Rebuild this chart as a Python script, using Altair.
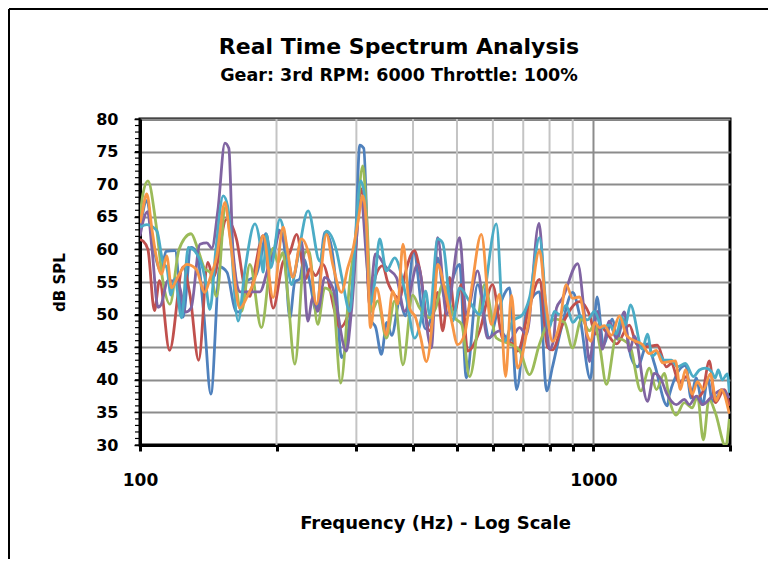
import altair as alt
import pandas as pd

chart_title = "Real Time Spectrum Analysis"
chart_subtitle = "Gear: 3rd RPM: 6000 Throttle: 100%"
x_title = "Frequency (Hz) - Log Scale"
y_title = "dB SPL"

blue_hz = [100, 103.6, 106.8, 109.0, 111.3, 114.1, 119.4, 124.4, 129.6, 133.5, 138.3, 143.3, 150.0, 155.5,
           162.7, 166.0, 171.2, 180.1, 185.7, 189.5, 195.3, 202.4, 207.6, 214.0, 219.5, 225.1, 229.7, 236.8,
           245, 255.5, 262.1, 270.2, 278.1, 290.1, 299, 305.2, 311.4, 322.2, 331, 340.7, 350, 359, 373.8,
           384.8, 401.3, 425.8, 439.7, 453.3, 469.6, 506.8, 524.3, 555.3, 590, 614.8, 653, 676.7, 711.8,
           760.3, 788, 812.2, 850, 900, 931.3, 984.8, 1018, 1052, 1101, 1129, 1164, 1210, 1250, 1315, 1362,
           1455, 1470, 1598, 1641, 1683, 1741, 1786, 1829, 1923, 1993]
blue_db = [63, 67.5, 61, 58, 56.5, 59.7, 59.8, 49.6, 60.3, 59.5, 50, 37.8, 57.3, 56.5,
           50.5, 50.4, 55, 56, 59.5, 62.4, 58.5, 63, 61, 49.5, 55, 55.5, 58.5, 55,
           50.5, 62.6, 61.5, 55, 43.4, 49.5, 62, 76, 75.5, 49.3, 48, 43.9, 48.8, 46.8, 52,
           49.8, 59.6, 47.8, 50, 58.7, 52.6, 57.7, 40.3, 54.6, 46.4, 50.5, 54.1, 38.5, 50.5,
           53.5, 38.3, 42, 48, 53.4, 50, 40.1, 52.7, 45.4, 49.3, 46.2, 49.3, 43.5, 42, 45.5, 42.5,
           36, 37.7, 42.2, 37.2, 40.3, 36.2, 40.3, 36.7, 38.2, 37.2]

red_hz = [100, 101.5, 104.1, 107.6, 110.4, 116.2, 124.4, 128.9, 134.7, 141.1, 145, 155.1, 163.3, 170.3,
          174.7, 179.2, 186.9, 196.6, 206.5, 214, 221.4, 232, 236.8, 244, 253, 268.8, 275.7, 290.1, 299,
          306.8, 313, 321, 331, 342.9, 351.7, 364.4, 373.8, 383.4, 402.7, 413.7, 435.2, 453.3, 464.9,
          481.7, 494.1, 511.2, 527.8, 560.9, 599, 630, 663, 680, 722.7, 760.3, 792, 812, 854, 931.3,
          979.8, 1010, 1031, 1062, 1124, 1200, 1244, 1295, 1383, 1448, 1485, 1547, 1602, 1669, 1738,
          1801, 1856, 1943, 1993]
red_db = [61.5, 61.3, 60, 50.6, 55.2, 44.5, 57.3, 53, 43, 58, 55.7, 64.6, 61.5, 54,
          52.8, 57, 62.1, 51, 58, 59.5, 62.3, 55.5, 57, 56, 57.7, 50.5, 48, 51, 60,
          69.3, 66, 51.5, 56, 57.5, 55, 53, 52.5, 56, 59.8, 57, 47.5, 53.4, 47.5,
          55.7, 50.5, 54.6, 44.4, 47.5, 54.6, 46.4, 45.5, 44.4, 51.3, 55.4, 45, 44.6, 48.5, 52,
          50, 47, 48.5, 47.5, 45.5, 48.4, 45.5, 45, 45.3, 42, 42.5, 39.5, 40.5, 37, 38,
          42.9, 36.5, 38.5, 36]

green_hz = [100, 101.5, 104.1, 108.4, 112.4, 116.4, 121.9, 129.6, 134.2, 139, 142.6, 147.6, 154.3, 159.4,
            167.4, 174.7, 185.2, 196.6, 201.3, 206.5, 211.8, 219.5, 230.9, 235.6, 246.6, 255.5, 266.1,
            277.1, 290.1, 299, 309.9, 316.2, 324.3, 334.3, 349.4, 364.4, 380.1, 399.2, 413.7, 435.2,
            448.7, 464.9, 494.1, 512, 533.1, 575.3, 610.6, 653, 687, 722.7, 760.3, 792, 827.6, 863.1,
            899, 940.8, 979.8, 1005, 1031, 1068, 1122, 1200, 1272, 1328, 1376, 1433, 1470, 1521, 1586,
            1652, 1695, 1747, 1798, 1856, 1957, 1993]
green_db = [65, 68.5, 70.5, 64, 55, 51.6, 60, 62.4, 60, 57, 56.5, 52.8, 66.5, 60,
            50.5, 57.7, 48, 60.2, 58, 59.5, 53, 42.4, 59.5, 59.8, 48.5, 54.1, 53,
            39.5, 55, 62, 72.8, 65, 50.5, 52.1, 46.4, 52.1, 42.3, 53, 51, 49.5,
            51, 54.6, 49.5, 48.5, 40.5, 54.6, 46.4, 45.5, 44.5, 40.8, 45.5, 48.5, 49.3, 48.8,
            44.9, 49.3, 47.5, 48.5, 45.4, 39.3, 46.4, 45.4, 38.3, 41.8, 38.5, 41, 37, 34.6, 36.5,
            35.7, 37.5, 30.8, 37, 35, 29.8, 34]

purple_hz = [100, 101.5, 103.9, 106.3, 109.6, 111.3, 115.2, 121.2, 126.3, 129.6, 135.6, 140.4, 144, 148.5,
             153.9, 157, 160.3, 166, 174.7, 183.8, 191.4, 198.3, 203.4, 210.4, 217.6, 227, 234.4, 240.4,
             246.6, 255.5, 266.1, 285.2, 292.6, 307, 316.2, 321, 330.5, 349.4, 367.6, 383.4, 409.5, 439,
             453.3, 474.4, 506.8, 524.3, 555.3, 584, 620.7, 653, 687, 711.8, 758.4, 784, 799.9, 816.3,
             828.6, 854.4, 923, 955.2, 979.8, 1005, 1020, 1046, 1084, 1122, 1170, 1200, 1231, 1315, 1362,
             1411, 1448, 1524, 1586, 1627, 1686, 1738, 1829, 1923, 1993]
purple_db = [62, 64.2, 65.8, 60, 51.1, 51.5, 55.2, 55, 50.4, 51, 60.8, 61, 60.2, 66,
             76.3, 75.5, 60, 53.5, 53.5, 53.5, 57, 60, 62.8, 59.8, 55.7, 61.3, 49, 52.6,
             50.5, 55.7, 54.1, 44.4, 50.5, 67.7, 58, 52.6, 59.3, 57.2, 55.7, 50.5, 57.7, 44.9,
             61.8, 50, 61.8, 50, 56.7, 46.4, 47.5, 46, 48, 47, 64, 50, 44.7, 46,
             51, 52.5, 57.8, 50, 42.8, 48.3, 50.5, 44.7, 49, 46.4, 50.4, 44.4, 46.7, 36.7, 41,
             40, 38, 36.2, 37, 36.2, 37.5, 36.2, 37.5, 38.5, 37.2]

aqua_hz = [100, 103.6, 106.8, 109, 112.4, 114.6, 117, 119.4, 123.5, 127.8, 133.5, 139, 142.6, 147,
           152.6, 156.2, 164.6, 170.3, 179.2, 183.8, 186.9, 190.1, 194.3, 203.4, 208.6, 215.8, 221.7,
           234.8, 249.1, 257.7, 271.1, 279.9, 290.1, 297.5, 306.5, 313, 322.2, 329.3, 337.7, 349.4,
           364.4, 386.6, 403.3, 417.3, 426.4, 435.2, 453.3, 464.9, 489.1, 506.8, 533.1, 560.9, 610.6,
           636.7, 663, 697.6, 722.7, 760.3, 797, 820.4, 841.5, 870.6, 900, 931.3, 969.9, 1005, 1046,
           1084, 1124, 1153, 1176, 1206, 1282, 1315, 1348, 1383, 1433, 1485, 1532, 1594, 1661, 1712,
           1765, 1819, 1856, 1884, 1923, 1973, 1993]
aqua_db = [63.4, 63.8, 63.4, 62.8, 58, 57.2, 53, 55.5, 49.5, 60.3, 59.3, 55.7, 50.8, 60,
           68.2, 66.5, 49, 56.7, 63.9, 61, 56.5, 62.3, 57.2, 64.6, 62, 54.6, 58,
           65.9, 58.2, 62.8, 59.8, 55, 50.5, 60, 70.5, 68, 51.6, 55, 61.6, 56.7,
           58.7, 52.6, 46.4, 49.5, 53.6, 50, 61.6, 61, 49, 54.1, 52, 50, 63.9,
           45.9, 49, 50, 52.6, 61.8, 47.8, 50.5, 50, 51.4, 48.8, 49.8, 49.2, 50.5, 48,
           48.4, 47, 49.7, 48.4, 51.5, 44.7, 47, 43.6, 44.2, 43, 43, 42, 42.5, 40.5, 41.5,
           41.8, 41.3, 40.3, 41.5, 40, 40.9, 38]

orange_hz = [100, 101, 103.5, 106.3, 107.9, 111.6, 114.5, 117.4, 121.2, 126.7, 132.9, 139, 142.6, 147.7,
             153.9, 157.8, 166, 172.9, 179.2, 186.9, 196.6, 206.9, 210.7, 217.3, 227, 236.8, 245, 257.7,
             266.1, 278.1, 287.2, 294.5, 302.1, 309.9, 316.2, 322.2, 332.2, 349.4, 360.8, 370, 380.1,
             393.2, 405.4, 415.8, 428, 446.4, 453.3, 469.6, 486.6, 501.7, 519.8, 538.5, 565.8, 595,
             620.7, 640, 659.5, 680, 715.4, 760.3, 784, 812.2, 841.5, 870.6, 899, 931.3, 969.9, 988,
             1005, 1031, 1057, 1095, 1141, 1182, 1231, 1282, 1328, 1376, 1419, 1470, 1516, 1555, 1594,
             1652, 1695, 1747, 1810, 1865, 1913, 1993]
orange_db = [64, 65.4, 68.5, 63, 60, 56.2, 59, 54.1, 55.8, 57.7, 57, 53.4, 55.5, 59,
             67.2, 62, 51, 53, 55.5, 62.1, 52.6, 63.4, 60.5, 55.7, 61.6, 58.5, 51.6, 62.3,
             57.7, 53.4, 57.2, 59.8, 64, 68.2, 63, 48, 54.1, 46.9, 53.6, 51.6, 60.8,
             51, 49.5, 46.5, 42.8, 52.6, 57.7, 54, 49, 45.4, 47, 54, 62.3, 48.5,
             53.1, 40.5, 53, 41.8, 48, 59.8, 52, 45.9, 48.5, 54.6, 52.5, 52.7, 46.8, 45.9,
             48.8, 48, 48.3, 46.8, 49.8, 46.8, 46, 45.4, 44, 44.5, 42.6, 42.8, 42.9, 38.5, 41.5,
             37.8, 39.7, 38.5, 40.9, 36.8, 38.5, 34.8]

series_colors = ["#4F81BD", "#C0504D", "#9BBB59", "#8064A2", "#4BACC6", "#F79646"]
series_data = [(blue_hz, blue_db), (red_hz, red_db), (green_hz, green_db),
               (purple_hz, purple_db), (aqua_hz, aqua_db), (orange_hz, orange_db)]

x_tick_values = [100, 200, 300, 400, 500, 600, 700, 800, 900, 1000, 2000]
x_minor_grid = [200, 300, 400, 500, 600, 700, 800, 900]
x_major_grid = [1000]
y_tick_values = [30, 35, 40, 45, 50, 55, 60, 65, 70, 75, 80]
y_minor_ticks = list(range(30, 81))

FONT = "DejaVu Sans"
x_scale = alt.Scale(type="log", domain=[100, 2000], nice=False)
y_scale = alt.Scale(domain=[30, 80], nice=False, zero=False)

x_axis = alt.Axis(values=x_tick_values, format="d",
                  labelExpr="(datum.value == 100 || datum.value == 1000) ? datum.label : ''",
                  grid=False, domainColor="black", domainWidth=3, tickColor="black",
                  tickSize=6, tickWidth=3, labelFont=FONT, labelFontSize=17, labelFontWeight="bold",
                  labelColor="black", labelPadding=21, labelOverlap=False, labelFlush=False,
                  title=x_title, titleFont=FONT, titleFontSize=18, titleFontWeight="bold",
                  titleColor="black", titlePadding=26)
y_axis = alt.Axis(values=y_tick_values, grid=True, gridColor="#8c8c8c", gridWidth=2,
                  domainColor="black", domainWidth=3, tickColor="black", tickSize=6, tickWidth=1.5,
                  labelFont=FONT, labelFontSize=16, labelFontWeight="bold", labelColor="black",
                  labelPadding=16, title=y_title, titleFont=FONT, titleFontSize=15,
                  titleFontWeight="bold", titleColor="black", titlePadding=28)

layers = []
layers.append(alt.Chart(pd.DataFrame({"f": x_minor_grid})).mark_rule(color="#c4c4c4", strokeWidth=2)
              .encode(x=alt.X("f:Q", scale=x_scale, axis=x_axis)))
layers.append(alt.Chart(pd.DataFrame({"f": x_major_grid})).mark_rule(color="#8c8c8c", strokeWidth=2)
              .encode(x=alt.X("f:Q", scale=x_scale, axis=x_axis)))
layers.append(alt.Chart(pd.DataFrame({"v": y_minor_ticks})).mark_rule(color="black", strokeWidth=1.2)
              .encode(y=alt.Y("v:Q", scale=y_scale, axis=y_axis), x=alt.value(-5), x2=alt.value(0)))

for (hz, db), col in zip(series_data, series_colors):
    df = pd.DataFrame({"f": hz, "db": db})
    layers.append(alt.Chart(df).mark_line(color=col, strokeWidth=2.8, interpolate="monotone", clip=True)
                  .encode(x=alt.X("f:Q", scale=x_scale, axis=x_axis),
                          y=alt.Y("db:Q", scale=y_scale, axis=y_axis)))

one_row = pd.DataFrame({"a": [0]})
# outer chart frame (left and top edges; the others lie beyond the window)
frame_left = alt.Chart(one_row).mark_rule(color="black", strokeWidth=2, clip=False).encode(
    x=alt.value(-131), y=alt.value(-110), y2=alt.value(600))
frame_top = alt.Chart(one_row).mark_rule(color="black", strokeWidth=2, clip=False).encode(
    x=alt.value(-131), x2=alt.value(800), y=alt.value(-110))
title_text = alt.Chart(one_row).mark_text(text=chart_title, font=FONT, fontSize=22, fontWeight="bold",
                                          color="black", align="center", baseline="alphabetic").encode(
    x=alt.value(259), y=alt.value(-65))
subtitle_text = alt.Chart(one_row).mark_text(text=chart_subtitle, font=FONT, fontSize=17.5, fontWeight="bold",
                                             color="black", align="center", baseline="alphabetic").encode(
    x=alt.value(259), y=alt.value(-38))
layers += [frame_left, frame_top, title_text, subtitle_text]

chart = alt.layer(*layers).properties(
    width=590, height=326,
    autosize="none",
    padding={"left": 132, "top": 111, "right": 38, "bottom": 114},
    background="white",
).configure_view(stroke="black", strokeWidth=3)

chart.save("out.html", embed_options={"renderer": "svg", "actions": False})
